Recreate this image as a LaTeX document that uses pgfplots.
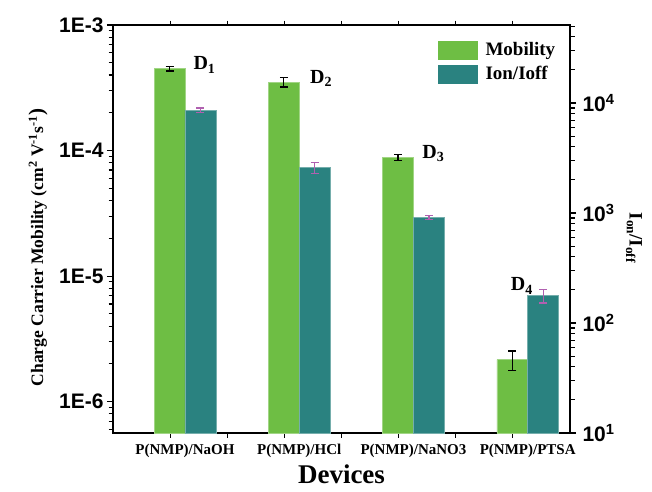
\documentclass[border=0pt]{standalone}
\usepackage{fontspec}
\setmainfont{Liberation Serif}
\setsansfont{Liberation Sans}
\usepackage{pgfplots}
\pgfplotsset{compat=1.18}
\usepackage{pgfplotstable}
\definecolor{mobgreen}{RGB}{110,190,68}
\definecolor{ionteal}{RGB}{42,130,128}
\definecolor{errpurple}{RGB}{176,96,176}

\pgfplotstableread{
x      y        ep      em
0.865  4.5e-4   2e-5    2e-5
1.865  3.5e-4   3e-5    3e-5
2.865  8.85e-5  5e-6    5e-6
3.865  2.16e-6  0.38e-6 0.38e-6
}\mobdata

\pgfplotstableread{
x      y      ep    em
1.135  8630   400   400
2.135  2600   300   300
3.135  914    35    35
4.135  177    25    25
}\iondata

\begin{document}
\begin{tikzpicture}
\useasboundingbox (0,0) rectangle (652pt,491pt);
\begin{axis}[
  at={(113pt,58pt)}, anchor=south west,
  scale only axis, width=457pt, height=408pt,
  xmin=0.37, xmax=4.37,
  ymode=log, ymin=5.63e-7, ymax=1e-3,
  log origin y=infty,
  axis line style={line width=1.3pt},
  tick style={line width=1.1pt, black},
  major tick length=6pt, minor tick length=4.5pt,
  tick align=outside,
  xtick pos=both, ytick pos=left,
  xtick={1,2,3,4},
  xticklabels={P(NMP)/NaOH, P(NMP)/HCl, P(NMP)/NaNO3, P(NMP)/PTSA},
  every major x tick/.append style={draw=none},
  minor xtick={0.87,1.37,1.87,2.37,2.87,3.37,3.87},
  xticklabel style={font=\fontsize{15}{17}\selectfont\bfseries, yshift=-2pt},
  ytick={1e-6,1e-5,1e-4,1e-3},
  yticklabels={1E-6,1E-5,1E-4,1E-3},
  minor ytick={6e-7,7e-7,8e-7,9e-7,2e-6,3e-6,4e-6,5e-6,6e-6,7e-6,8e-6,9e-6,2e-5,3e-5,4e-5,5e-5,6e-5,7e-5,8e-5,9e-5,2e-4,3e-4,4e-4,5e-4,6e-4,7e-4,8e-4,9e-4},
  yticklabel style={font=\fontsize{21}{24}\selectfont\sffamily\bfseries},
  ylabel={Charge Carrier Mobility (cm\textsuperscript{2} V\textsuperscript{-1}s\textsuperscript{-1}\kern0.5pt{\fontsize{21}{21}\selectfont)}},
  ylabel style={at={(axis description cs:-0.164,0.455)}, anchor=center, font=\fontsize{17.5}{20}\selectfont\bfseries},
  xlabel={Devices},
  xlabel style={at={(axis description cs:0.5,-0.1)}, anchor=center, inner sep=0pt, font=\fontsize{27}{29}\selectfont\bfseries},
  clip=false,
]
\addplot[ybar, bar width=30.9pt, bar shift=0pt, fill=mobgreen, draw=mobgreen!65!white, line width=0.6pt,
  error bars/.cd, y dir=both, y explicit,
  error bar style={black, line width=1.3pt},
  error mark options={black, line width=1.3pt, mark size=4pt, rotate=90}]
  table[x=x, y=y, y error plus=ep, y error minus=em] {\mobdata};
\node[anchor=base west, font=\fontsize{20}{22}\selectfont\bfseries] at (axis cs:1.044,4.39e-4) {D\textsubscript{1}};
\node[anchor=base west, font=\fontsize{20}{22}\selectfont\bfseries] at (axis cs:2.065,3.43e-4) {D\textsubscript{2}};
\node[anchor=base west, font=\fontsize{20}{22}\selectfont\bfseries] at (axis cs:3.047,8.69e-5) {D\textsubscript{3}};
\node[anchor=base west, font=\fontsize{20}{22}\selectfont\bfseries] at (axis cs:3.822,7.62e-6) {D\textsubscript{4}};
\end{axis}
\begin{axis}[
  at={(113pt,58pt)}, anchor=south west,
  scale only axis, width=457pt, height=408pt,
  xmin=0.37, xmax=4.37,
  axis x line=none,
  axis y line*=right,
  ymode=log, ymin=10, ymax=5.12e4,
  log origin y=infty,
  axis line style={line width=1.3pt},
  tick style={line width=1.1pt, black},
  major tick length=6pt, minor tick length=4.5pt,
  tick align=outside,
  ytick={10,100,1000,10000},
  yticklabels={10\textsuperscript{1},10\textsuperscript{2},10\textsuperscript{3},10\textsuperscript{4}},
  minor ytick={20,30,40,50,60,70,80,90,200,300,400,500,600,700,800,900,2000,3000,4000,5000,6000,7000,8000,9000,20000,30000,40000,50000},
  yticklabel style={font=\fontsize{21}{24}\selectfont\sffamily\bfseries, xshift=3pt},
  ylabel={I\textsubscript{on}/I\textsubscript{off}},
  ylabel style={at={(axis description cs:1.14,0.478)}, anchor=center, rotate=180, font=\fontsize{19}{21}\selectfont\bfseries},
  legend style={at={(axis description cs:0.711,0.9615)}, anchor=north west, draw=none, fill=none,
    inner sep=0pt, row sep=6pt, column sep=7pt, nodes={inner sep=1pt}, font=\fontsize{19}{21}\selectfont\bfseries},
  legend cell align=left,
  clip=false,
]
\addlegendimage{legend image code/.code={\fill[mobgreen] (0pt,-8.8pt) rectangle (39pt,8.8pt);}}
\addlegendentry{Mobility}
\addlegendimage{legend image code/.code={\fill[ionteal] (0pt,-8.8pt) rectangle (39pt,8.8pt);}}
\addlegendentry{Ion/Ioff}
\addplot[forget plot, ybar, bar width=30.9pt, bar shift=0pt, fill=ionteal, draw=ionteal!65!white, line width=0.6pt,
  error bars/.cd, y dir=both, y explicit,
  error bar style={errpurple, line width=1.3pt},
  error mark options={errpurple, line width=1.3pt, mark size=4pt, rotate=90}]
  table[x=x, y=y, y error plus=ep, y error minus=em] {\iondata};
\end{axis}
\end{tikzpicture}
\end{document}
